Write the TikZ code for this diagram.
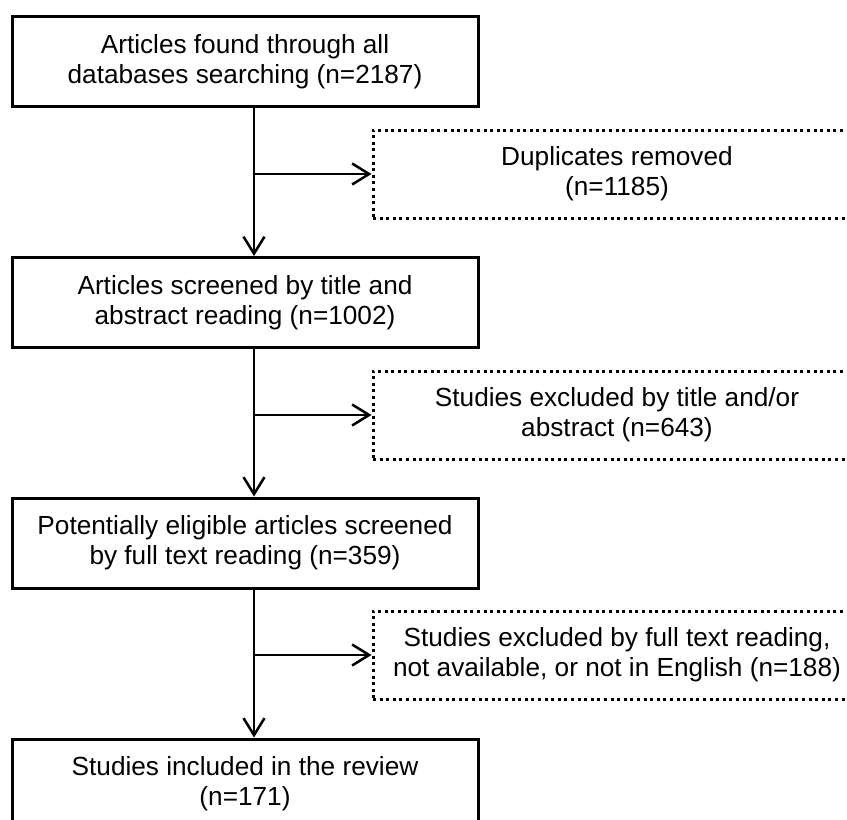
\documentclass[tikz,border=0pt]{standalone}
\usepackage{fontspec}
\setmainfont{Liberation Sans}
\usetikzlibrary{arrows.meta}

\tikzset{
  stage/.style={draw, line width=1.5pt, minimum width=233pt, minimum height=45pt,
    inner sep=0pt, align=center, font=\fontsize{13.1}{15}\selectfont},
  excluded/.style={draw, line width=1.5pt, dash pattern=on 1.5pt off 1.8pt,
    minimum width=244pt, minimum height=44pt, inner sep=0pt, align=center,
    font=\fontsize{13.1}{15}\selectfont},
  flow/.style={-{Straight Barb[length=8.5pt,width=10.5pt]}, line width=1.25pt}
}

\begin{document}
\begin{tikzpicture}[x=0.5pt, y=-0.5pt]
\clip (0,0) rectangle (847,820);

\node[stage] (found) at (245,61.5) {Articles found through all\\databases searching (n=2187)};
\node[stage] (screened) at (245,302.5) {Articles screened by title and\\abstract reading (n=1002)};
\node[stage] (eligible) at (245,543) {Potentially eligible articles screened\\by full text reading (n=359)};
\node[stage] (included) at (245,784) {Studies included in the review\\(n=171)};

\node[excluded] (dup) at (617,174) {Duplicates removed\\(n=1185)};
\node[excluded] (abs) at (617,415) {Studies excluded by title and/or\\abstract (n=643)};
\node[excluded] (full) at (617,655) {Studies excluded by full text reading,\\not available, or not in English (n=188)};

\coordinate (trunk) at (254,0);

\draw[flow] (found.south -| trunk) -- (screened.north -| trunk);
\draw[flow] (screened.south -| trunk) -- (eligible.north -| trunk);
\draw[flow] (eligible.south -| trunk) -- (included.north -| trunk);

\draw[flow] (dup.west -| trunk) -- (dup.west);
\draw[flow] (abs.west -| trunk) -- (abs.west);
\draw[flow] (full.west -| trunk) -- (full.west);
\end{tikzpicture}
\end{document}
